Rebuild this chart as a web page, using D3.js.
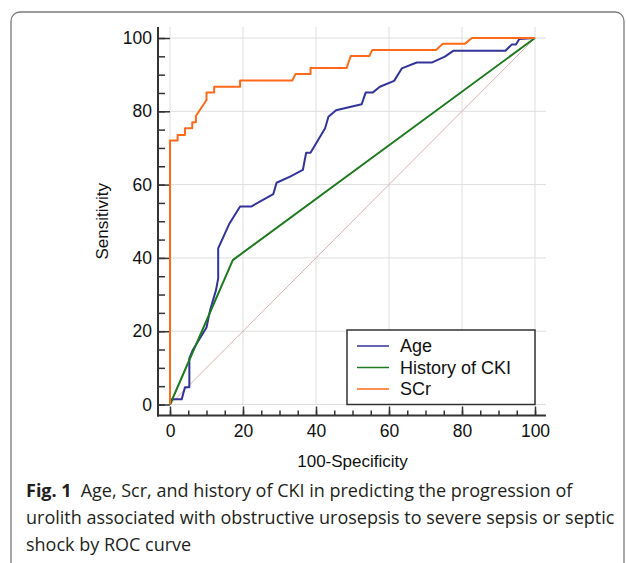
<!DOCTYPE html>
<html>
<head>
<meta charset="utf-8">
<script src="https://cdn.jsdelivr.net/npm/d3@7"></script>
<style>
  body { margin: 0; background: #fff; }
  svg { display: block; }
</style>
</head>
<body>
<div id="chart"></div>
<script>
var w = 627;
var h = 563;

// ROC curves, values (100-Specificity, Sensitivity)
var ageX = [0, 0.5, 3.2, 4.1, 5.3, 5.3, 6.2, 10, 11, 12.6, 13.2, 13.2, 16.3, 19.2, 22.2, 28.3, 29.2, 32.9, 36.4, 37.3, 38.5, 42.5, 43.4, 45.5, 52.5, 53.6, 55.5, 57.5, 61.4, 63.5, 67.6, 71.7, 75.3, 77.6, 91.9, 93.6, 94.8, 95.7, 100];
var ageY = [0, 1.4, 1.4, 4.7, 4.7, 12.6, 14.8, 21, 25.8, 31.2, 34.4, 42.6, 49.4, 54, 54, 57.4, 60.5, 62.2, 64, 68.7, 68.7, 75.4, 78.5, 80.3, 81.9, 85.1, 85.1, 86.7, 88.3, 91.7, 93.3, 93.3, 94.9, 96.5, 96.5, 98.2, 98.2, 99.7, 100];

var ckiX = [0, 17.2, 100];
var ckiY = [0, 39.4, 100];

var scrX = [0, 0, 2.1, 2.1, 4.1, 4.1, 6.1, 6.1, 7.1, 7.1, 10, 10, 12.1, 12.1, 19.2, 19.2, 33.5, 34.4, 38.5, 38.5, 48.4, 49.5, 54.6, 55.4, 72.9, 74.7, 80.8, 82.7, 100];
var scrY = [0, 72, 72, 73.5, 73.5, 75.4, 75.4, 77, 77, 78.7, 83.1, 85.1, 85.1, 86.7, 86.7, 88.4, 88.4, 90.2, 90.2, 91.8, 91.8, 95.1, 95.1, 96.7, 96.7, 98.4, 98.4, 100, 100];

var refX = [0, 100];
var refY = [0, 100];

var seriesNames = ["Age", "History of CKI", "SCr"];
var seriesColors = ["#33339c", "#1e7a1e", "#ff6a1a"];

var tickValues = [0, 20, 40, 60, 80, 100];
var minorTicks = d3.range(0, 101, 5);

var captionBold = "Fig. 1";
var captionLines = [
  "Age, Scr, and history of CKI in predicting the progression of",
  "urolith associated with obstructive urosepsis to severe sepsis or septic",
  "shock by ROC curve"
];

var svg = d3.select("#chart").append("svg")
            .attr("width", w)
            .attr("height", h);

// page frame
svg.append("rect")
   .attr("x", 11).attr("y", 12)
   .attr("width", 613).attr("height", 560)
   .attr("rx", 9)
   .attr("fill", "none")
   .attr("stroke", "#7a7a7a")
   .attr("stroke-width", 1.3);

var x = d3.scaleLinear().domain([0, 100]).range([170, 535]);
var y = d3.scaleLinear().domain([0, 100]).range([404.5, 38]);

var axisX = 158;   // y spine position
var axisY = 415.5; // x spine position
var font = "'Liberation Sans', Arial, sans-serif";

// grid
svg.selectAll("line.vgrid")
   .data(tickValues)
   .enter()
   .append("line")
   .attr("class", "vgrid")
   .attr("x1", function(d) { return x(d); })
   .attr("x2", function(d) { return x(d); })
   .attr("y1", y(0))
   .attr("y2", y(103))
   .attr("stroke", "#dedede")
   .attr("stroke-width", 1);

svg.selectAll("line.hgrid")
   .data(tickValues)
   .enter()
   .append("line")
   .attr("class", "hgrid")
   .attr("x1", x(0))
   .attr("x2", x(103))
   .attr("y1", function(d) { return y(d); })
   .attr("y2", function(d) { return y(d); })
   .attr("stroke", "#dedede")
   .attr("stroke-width", 1);

// axes
var yMinor = svg.append("g")
   .attr("transform", "translate(" + axisX + ",0)")
   .call(d3.axisLeft(y).tickValues(minorTicks).tickSize(-7).tickFormat(""));
var yMajor = svg.append("g")
   .attr("transform", "translate(" + axisX + ",0)")
   .call(d3.axisLeft(y).tickValues(tickValues).tickSize(-12).tickPadding(6));

var xMinor = svg.append("g")
   .attr("transform", "translate(0," + axisY + ")")
   .call(d3.axisBottom(x).tickValues(minorTicks).tickSize(-5).tickFormat(""));
var xMajor = svg.append("g")
   .attr("transform", "translate(0," + axisY + ")")
   .call(d3.axisBottom(x).tickValues(tickValues).tickSize(-9).tickPadding(7));

[yMinor, yMajor, xMinor, xMajor].forEach(function(g) {
  g.select(".domain").remove();
  g.selectAll(".tick line").attr("stroke", "#333").attr("stroke-width", 1.5);
  g.selectAll("text").style("font-family", font).style("font-size", "17.5px").attr("fill", "#111");
});
xMajor.selectAll("text").attr("dy", "0.75em").attr("y", 8);

// spines
svg.append("line")
   .attr("x1", axisX).attr("x2", axisX)
   .attr("y1", y(103)).attr("y2", axisY + 1)
   .attr("stroke", "#333").attr("stroke-width", 2);
svg.append("line")
   .attr("x1", axisX - 1).attr("x2", x(103))
   .attr("y1", axisY).attr("y2", axisY)
   .attr("stroke", "#333").attr("stroke-width", 2);

// axis titles
svg.append("text")
   .text("100-Specificity")
   .attr("x", (x(0) + x(100)) / 2)
   .attr("y", 467)
   .attr("text-anchor", "middle")
   .style("font-family", font)
   .style("font-size", "17px")
   .attr("fill", "#111");

svg.append("text")
   .text("Sensitivity")
   .attr("transform", "translate(108," + ((y(0) + y(100)) / 2) + ") rotate(-90)")
   .attr("text-anchor", "middle")
   .style("font-family", font)
   .style("font-size", "17px")
   .attr("fill", "#111");

// curves
function pts(xs, ys) {
  return xs.map(function(d, i) { return [d, ys[i]]; });
}
var line = d3.line()
  .x(function(d) { return x(d[0]); })
  .y(function(d) { return y(d[1]); });

svg.append("path")
   .attr("d", line(pts(refX, refY)))
   .attr("fill", "none")
   .attr("stroke", "#dcb0b0")
   .attr("stroke-width", 1);

var curves = [pts(ageX, ageY), pts(ckiX, ckiY), pts(scrX, scrY)];
svg.selectAll("path.roc")
   .data(curves)
   .enter()
   .append("path")
   .attr("class", "roc")
   .attr("d", function(d) { return line(d); })
   .attr("fill", "none")
   .attr("stroke", function(d, i) { return seriesColors[i]; })
   .attr("stroke-width", 2)
   .attr("stroke-linejoin", "round");

// legend
var lgX = 347, lgY = 330, lgW = x(100) - 347, lgH = y(0) - 330;
svg.append("rect")
   .attr("x", lgX).attr("y", lgY)
   .attr("width", lgW).attr("height", lgH)
   .attr("fill", "#fff")
   .attr("stroke", "#333")
   .attr("stroke-width", 1.5);

var items = svg.selectAll("g.item")
   .data(seriesNames)
   .enter()
   .append("g")
   .attr("class", "item")
   .attr("transform", function(d, i) { return "translate(" + lgX + "," + (lgY + 16 + i * 21.5) + ")"; });
items.append("line")
   .attr("x1", 10).attr("x2", 42)
   .attr("stroke", function(d, i) { return seriesColors[i]; })
   .attr("stroke-width", 1.5);
items.append("text")
   .text(function(d) { return d; })
   .attr("x", 53)
   .attr("dy", "0.36em")
   .style("font-family", font)
   .style("font-size", "18px")
   .attr("fill", "#111");

// caption
var capFont = "'Open Sans', 'Noto Sans', sans-serif";
var cap = svg.append("text")
   .attr("x", 26)
   .attr("y", 497)
   .style("font-family", capFont)
   .style("font-size", "18px")
   .attr("fill", "#231f20");
cap.append("tspan").text(captionBold).style("font-weight", "bold");
cap.append("tspan").text("\u2002" + captionLines[0]);
captionLines.slice(1).forEach(function(t, i) {
  svg.append("text")
     .text(t)
     .attr("x", 26)
     .attr("y", 524 + i * 27)
     .style("font-family", capFont)
     .style("font-size", "18px")
     .attr("fill", "#231f20");
});
</script>
</body>
</html>
